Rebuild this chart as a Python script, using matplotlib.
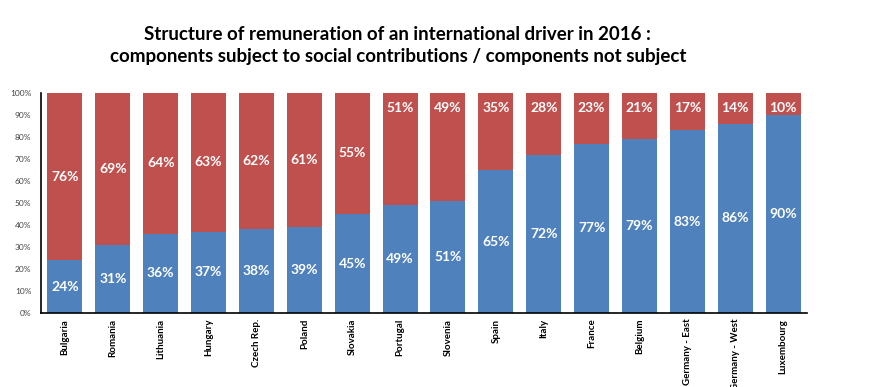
import numpy as np
import matplotlib
matplotlib.use('Agg')
import matplotlib.pyplot as plt
from matplotlib.ticker import PercentFormatter

countries = ['Bulgaria', 'Romania', 'Lithuania', 'Hungary', 'Czech Rep.', 'Poland',
             'Slovakia', 'Portugal', 'Slovenia', 'Spain', 'Italy', 'France', 'Belgium',
             'Germany - East', 'Germany - West', 'Luxembourg']
subject = [24, 31, 36, 37, 38, 39, 45, 49, 51, 65, 72, 77, 79, 83, 86, 90]
not_subject = [76, 69, 64, 63, 62, 61, 55, 51, 49, 35, 28, 23, 21, 17, 14, 10]

blue = '#4F81BD'
red = '#C0504D'
font = 'Lato'

fig = plt.figure(figsize=(8.8, 3.87), dpi=100)
ax = fig.add_axes([0.0466, 0.191, 0.8705, 0.569])

x = np.arange(len(countries))
sub = np.array(subject) / 100.0
notsub = np.array(not_subject) / 100.0
ax.bar(x, sub, width=0.73, color=blue)
ax.bar(x, notsub, width=0.73, bottom=sub, color=red)

# value labels, white bold
for i in range(len(countries)):
    ax.text(x[i], sub[i] / 2, '%d%%' % subject[i], ha='center', va='center',
            color='white', fontsize=10, fontweight='bold', family=font)
    if notsub[i] > 0.52:
        ytop = sub[i] + notsub[i] / 2
    else:
        ytop = 0.93
    ax.text(x[i], ytop, '%d%%' % not_subject[i], ha='center', va='center',
            color='white', fontsize=10, fontweight='bold', family=font)

ax.set_xlim(-0.5, len(countries) - 0.5)
ax.set_ylim(0, 1)
ax.set_yticks(np.arange(0, 1.01, 0.1))
ax.yaxis.set_major_formatter(PercentFormatter(1.0, decimals=0))
ax.set_xticks(x)
ax.set_xticklabels(countries, rotation=90, fontsize=7, fontweight='bold', family=font)
for lab in ax.get_yticklabels():
    lab.set_family(font)
ax.tick_params(axis='y', labelsize=6, length=0, pad=7, labelcolor='#444444')
ax.tick_params(axis='x', length=0, pad=4)
for s in ['top', 'right']:
    ax.spines[s].set_visible(False)
ax.spines['left'].set_linewidth(1.2)
ax.spines['bottom'].set_linewidth(1.2)

fig.text(0.452, 0.912, 'Structure of remuneration of an international driver in 2016 :',
         ha='center', va='center', fontsize=13.5, fontweight='bold', family=font)
fig.text(0.452, 0.853, 'components subject to social contributions / components not subject',
         ha='center', va='center', fontsize=13.5, fontweight='bold', family=font)

fig.savefig('out.png', dpi=100)
